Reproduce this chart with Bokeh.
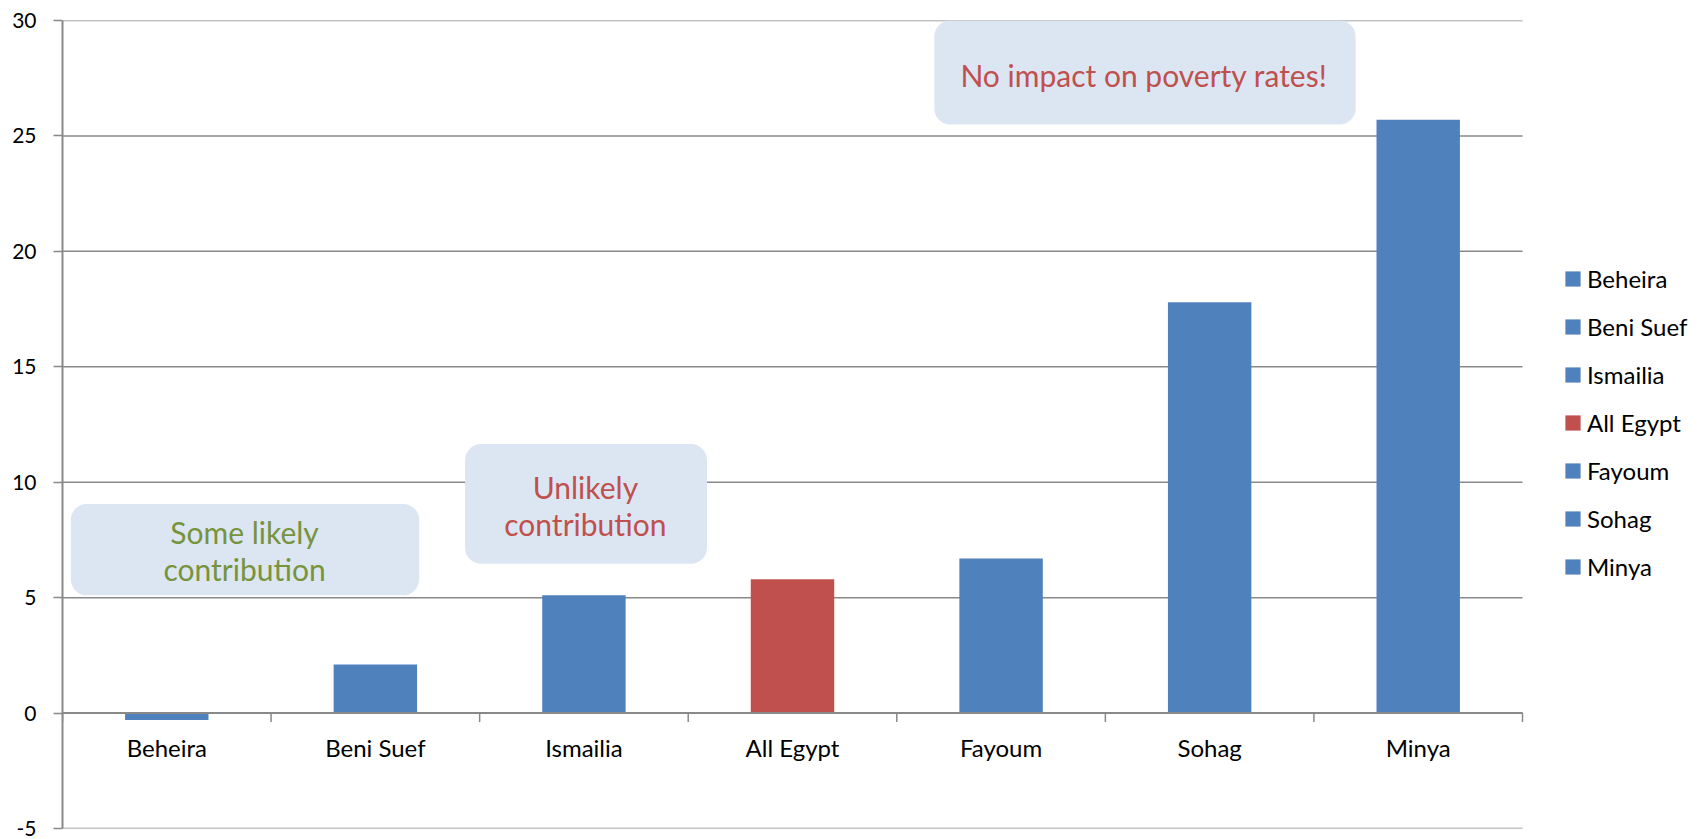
import numpy as np
from bokeh.plotting import figure
from bokeh.models import (ColumnDataSource, FixedTicker, Legend, LegendItem,
                          BoxAnnotation)
from bokeh.core.properties import value
from bokeh.embed import file_html
from bokeh.resources import INLINE

# ---- data ----
categories = ["Beheira", "Beni Suef", "Ismailia", "All Egypt", "Fayoum", "Sohag", "Minya"]
values = [-0.3, 2.1, 5.1, 5.8, 6.7, 17.8, 25.7]
y_ticks = [-5, 0, 5, 10, 15, 20, 25, 30]
highlight = "All Egypt"

FONT = "Lato"
BLUE = "#4F81BD"
RED = "#C0504D"
GREEN = "#77933C"
GRID = "#898989"
BOX = "#DCE6F2"

n = len(categories)
xs = np.arange(n) + 0.5
colors = [RED if c == highlight else BLUE for c in categories]
src = ColumnDataSource(dict(x=xs, top=values, cat=categories, color=colors))

# frame spans from x=62 px to the right edge; the category area ends at 1522 px
W, H = 1705, 839
LEFT, CAT_RIGHT = 62, 1522
x_end = n * (W - LEFT) / (CAT_RIGHT - LEFT)

p = figure(width=W, height=H, x_range=(0, x_end), y_range=(-5, 30),
           output_backend="svg", toolbar_location=None, x_axis_location=None,
           min_border_left=LEFT, min_border_right=0, min_border_top=20,
           min_border_bottom=11)
p.outline_line_color = None
p.background_fill_color = "white"
p.border_fill_color = "white"

# y axis
p.yaxis.ticker = FixedTicker(ticks=y_ticks)
p.yaxis.major_label_overrides = {t: str(t) for t in y_ticks}
p.yaxis.axis_line_color = GRID
p.yaxis.axis_line_width = 2
p.yaxis.major_tick_line_color = GRID
p.yaxis.major_tick_line_width = 1.5
p.yaxis.major_tick_out = 9
p.yaxis.major_tick_in = 0
p.yaxis.minor_tick_line_color = None
p.yaxis.major_label_text_font = FONT
p.yaxis.major_label_text_font_size = "21px"
p.yaxis.major_label_text_color = "black"
p.yaxis.major_label_standoff = 17

p.xgrid.visible = False
p.ygrid.visible = False

# horizontal gridlines limited to the category area
p.segment(x0=[0] * len(y_ticks), x1=[n] * len(y_ticks), y0=y_ticks, y1=y_ticks,
          line_color=GRID, line_width=1.5, level="image")

# annotation boxes
boxes = [
    dict(left=0.04, right=1.71, bottom=5.1, top=9.06),
    dict(left=1.93, right=3.09, bottom=6.47, top=11.65),
    dict(left=4.18, right=6.2, bottom=25.5, top=30.0),
]
for b in boxes:
    p.add_layout(BoxAnnotation(left=b["left"], right=b["right"], bottom=b["bottom"],
                               top=b["top"], fill_color=BOX, fill_alpha=1,
                               line_color=None, border_radius=16, level="underlay"))

# bars
bars = p.vbar(x="x", top="top", width=0.4, bottom=0, fill_color="color",
              line_color=None, source=src)

# x axis line at 0 and ticks at category boundaries
bounds = np.arange(n + 1)
p.segment(x0=bounds, x1=bounds, y0=0, y1=-0.39, line_color=GRID, line_width=1.5)
p.segment(x0=[0], x1=[n], y0=[0], y1=[0], line_color=GRID, line_width=2)

# category labels
p.text(x=xs, y=[0] * n, text=categories, y_offset=34, text_align="center",
       text_baseline="middle", text_font=value(FONT), text_font_size="24px",
       text_color="black")

# annotation texts
notes_x = [0.873, 0.873, 2.507, 2.507, 5.185]
notes_y = [7.84, 6.26, 9.79, 8.21, 27.63]
notes_t = ["Some likely", "contribution", "Unlikely", "contribution", "No impact on poverty rates!"]
notes_c = [GREEN, GREEN, RED, RED, RED]
p.text(x=notes_x, y=notes_y, text=notes_t, text_color=notes_c, text_align="center",
       text_baseline="middle", text_font=value(FONT), text_font_size="30px")

# legend
items = [LegendItem(label=c, renderers=[bars], index=i) for i, c in enumerate(categories)]
legend = Legend(items=items, location=(1501, 247), border_line_color=None,
                background_fill_alpha=0, label_text_font=FONT,
                label_text_font_size="24px", label_text_color="black",
                glyph_width=19, glyph_height=19,
                label_standoff=5, spacing=19, margin=0, padding=0,
                label_height=24)
p.add_layout(legend)

open("out.html", "w").write(file_html(p, INLINE))
